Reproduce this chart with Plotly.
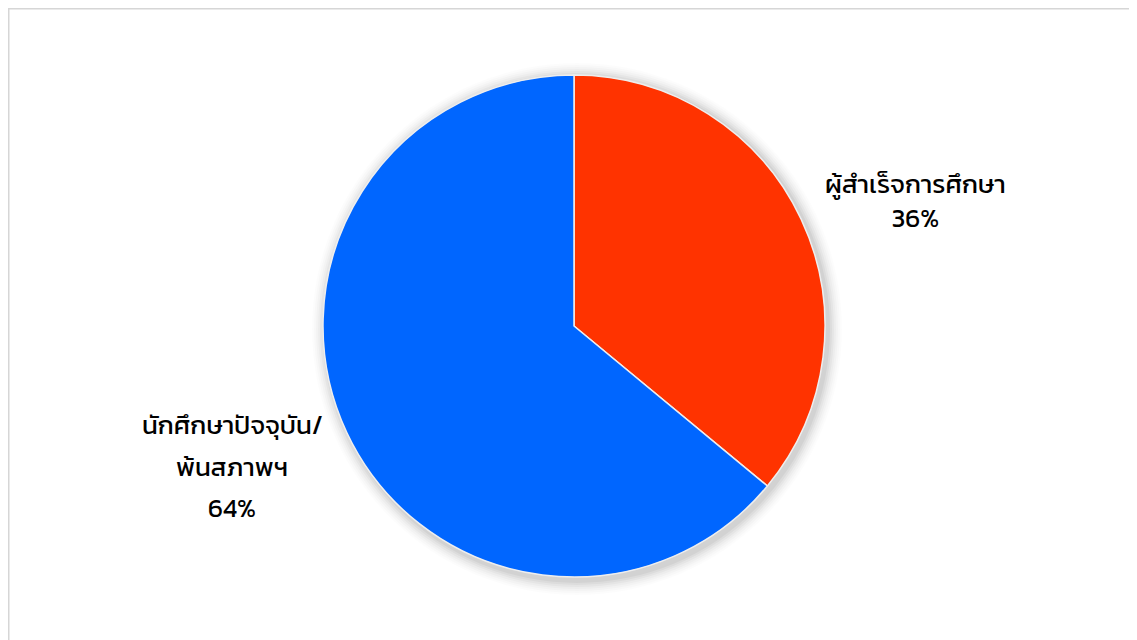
import plotly.graph_objects as go

labels = ["ผู้สำเร็จการศึกษา", "นักศึกษาปัจจุบัน/พ้นสภาพฯ"]
values = [36, 64]
colors = ["#FF3300", "#0066FF"]
label_lines = [["ผู้สำเร็จการศึกษา", "36%"], ["นักศึกษาปัจจุบัน/", "พ้นสภาพฯ", "64%"]]

W, H = 1137, 640
OX, OY = 8, 8  # page body margin offset
cx, cy, r = 574 - OX, 326 - OY, 251

def px(x):
    return x / W

def py(y):
    return 1 - y / H

FONT = "Kanit, Noto Sans Thai, Noto Sans, sans-serif"

fig = go.Figure()
fig.add_trace(go.Pie(
    labels=labels,
    values=values,
    marker=dict(colors=colors, line=dict(color="#EEEEEE", width=1.5)),
    sort=False,
    direction="clockwise",
    rotation=0,
    textinfo="none",
    hoverinfo="label+percent",
    showlegend=False,
    domain=dict(x=[px(cx - r), px(cx + r)], y=[py(cy + r), py(cy - r)]),
))

shapes = []
# soft shadow behind pie
for i, a in enumerate([0.04, 0.035, 0.03, 0.025, 0.02, 0.015, 0.01]):
    d = 2 + i * 2
    shapes.append(dict(type="circle", xref="paper", yref="paper",
                       x0=px(cx - r - d + 3), x1=px(cx + r + d + 3),
                       y0=py(cy + r + d + 4), y1=py(cy - r - d + 2),
                       fillcolor=f"rgba(0,0,0,{a})", line=dict(width=0), layer="below"))
# chart border
shapes.append(dict(type="rect", xref="paper", yref="paper",
                   x0=px(0), x1=px(1160), y0=py(660), y1=py(0),
                   line=dict(color="#D6D6D6", width=3), fillcolor="rgba(0,0,0,0)", layer="below"))

annotations = []
# right label: one block with a line break
annotations.append(dict(x=px(915 - OX), y=py(200 - OY), xref="paper", yref="paper",
                        text="<br>".join(label_lines[0]),
                        showarrow=False, xanchor="center", yanchor="middle", align="center",
                        font=dict(family=FONT, size=26, color="#000000")))
# left label lines
left_pos = [(232, 424), (232, 466), (232, 507)]
for (x, y), t in zip(left_pos, label_lines[1]):
    annotations.append(dict(x=px(x - OX), y=py(y - OY), xref="paper", yref="paper", text=t,
                            showarrow=False, xanchor="center", yanchor="middle",
                            font=dict(family=FONT, size=26, color="#000000")))

fig.update_layout(
    width=W, height=H,
    margin=dict(l=0, r=0, t=0, b=0),
    paper_bgcolor="white",
    plot_bgcolor="white",
    shapes=shapes,
    annotations=annotations,
)

fig.write_html("out.html")
